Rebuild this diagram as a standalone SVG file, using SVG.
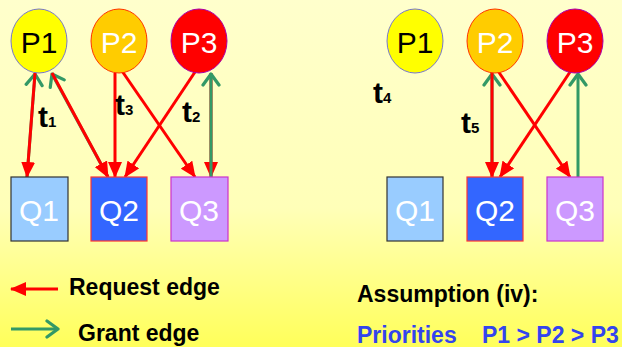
<svg xmlns="http://www.w3.org/2000/svg" width="622" height="347" viewBox="0 0 622 347">
<defs>
<linearGradient id="bg" x1="0" y1="0" x2="0" y2="1">
<stop offset="0" stop-color="#FFFFCC"/>
<stop offset="0.6" stop-color="#FFFFB8"/>
<stop offset="1" stop-color="#FFFF5A"/>
</linearGradient>
<marker id="rh" markerUnits="userSpaceOnUse" viewBox="0 0 16 14" refX="15" refY="7" markerWidth="16" markerHeight="14" orient="auto">
<path d="M0,0 L16,7 L0,14 z" fill="#FF0000"/>
</marker>
<marker id="gh" markerUnits="userSpaceOnUse" viewBox="0 0 16 20" refX="13" refY="10" markerWidth="16" markerHeight="20" orient="auto">
<path d="M2,2 L13,10 L2,18" fill="none" stroke="#339966" stroke-width="3.2" stroke-linecap="round" stroke-linejoin="round"/>
</marker>
</defs>
<style>
.req{stroke:#FF0000;stroke-width:3;fill:none;marker-end:url(#rh)}
.gr{stroke:#339966;stroke-width:3;fill:none;marker-end:url(#gh)}
.pt{font-family:"Liberation Sans",Arial,sans-serif;font-size:30px;text-anchor:middle}
.qt{font-family:"Liberation Sans",Arial,sans-serif;font-size:30px;text-anchor:middle;fill:#FFFFFF}
.tl{font-family:"Liberation Sans",Arial,sans-serif;font-weight:bold;font-size:30px;fill:#000000}
.sub{font-size:15px}
.lg{font-family:"Liberation Sans",Arial,sans-serif;font-weight:bold;font-size:23px;fill:#000000}
</style>
<rect x="0" y="0" width="622" height="347" fill="url(#bg)"/>

<g id="connectors">
<line class="gr" x1="27" y1="177" x2="35" y2="74"/>
<line class="gr" x1="108" y1="177" x2="52" y2="74"/>
<line class="req" x1="35" y1="73" x2="27" y2="177"/>
<line class="req" x1="52" y1="73" x2="108" y2="177"/>
<line class="req" x1="115" y1="73" x2="115" y2="177"/>
<line class="req" x1="122" y1="71" x2="195" y2="177"/>
<line class="req" x1="195" y1="72" x2="125" y2="177"/>
<line class="req" x1="211" y1="73" x2="211" y2="177"/>
<line class="gr" x1="211" y1="177" x2="211" y2="74"/>
<line class="gr" x1="492" y1="177" x2="492" y2="74"/>
<line class="req" x1="492" y1="73" x2="492" y2="177"/>
<line class="req" x1="498" y1="71" x2="570" y2="177"/>
<line class="req" x1="570" y1="72" x2="500" y2="177"/>
<line class="gr" x1="578" y1="177" x2="578" y2="74"/>
<line class="req" x1="58" y1="289" x2="11" y2="289"/>
<line class="gr" x1="11" y1="329" x2="58" y2="329"/>
</g>

<g id="L-P1"><ellipse cx="39" cy="41" rx="28" ry="32" fill="#FFFF00" stroke="#7777CC" stroke-width="1"/><text class="pt" x="39" y="53" fill="#000000">P1</text></g>
<g id="L-P2"><ellipse cx="119" cy="41" rx="28" ry="32" fill="#FFCC00" stroke="#FF3300" stroke-width="1"/><text class="pt" x="119" y="53" fill="#FFFFFF">P2</text></g>
<g id="L-P3"><ellipse cx="199" cy="41" rx="28" ry="32" fill="#FF0000" stroke="#AA00AA" stroke-width="1"/><text class="pt" x="199" y="53" fill="#FFFFFF">P3</text></g>
<g id="L-Q1"><rect x="11" y="177" width="57" height="64" fill="#99CCFF" stroke="#333333" stroke-width="1.2"/><text class="qt" x="39" y="221">Q1</text></g>
<g id="L-Q2"><rect x="91" y="177" width="56" height="64" fill="#3366FF" stroke="#FF3333" stroke-width="1.2"/><text class="qt" x="119" y="221">Q2</text></g>
<g id="L-Q3"><rect x="171" y="177" width="57" height="64" fill="#CC99FF" stroke="#CC33CC" stroke-width="1.2"/><text class="qt" x="199" y="221">Q3</text></g>

<g id="R-P1"><ellipse cx="415" cy="41" rx="28" ry="32" fill="#FFFF00" stroke="#7777CC" stroke-width="1"/><text class="pt" x="415" y="53" fill="#000000">P1</text></g>
<g id="R-P2"><ellipse cx="495" cy="41" rx="28" ry="32" fill="#FFCC00" stroke="#FF3300" stroke-width="1"/><text class="pt" x="495" y="53" fill="#FFFFFF">P2</text></g>
<g id="R-P3"><ellipse cx="575" cy="41" rx="28" ry="32" fill="#FF0000" stroke="#AA00AA" stroke-width="1"/><text class="pt" x="575" y="53" fill="#FFFFFF">P3</text></g>
<g id="R-Q1"><rect x="387" y="177" width="56" height="64" fill="#99CCFF" stroke="#333333" stroke-width="1.2"/><text class="qt" x="415" y="221">Q1</text></g>
<g id="R-Q2"><rect x="467" y="177" width="56" height="64" fill="#3366FF" stroke="#FF3333" stroke-width="1.2"/><text class="qt" x="495" y="221">Q2</text></g>
<g id="R-Q3"><rect x="547" y="177" width="56" height="64" fill="#CC99FF" stroke="#CC33CC" stroke-width="1.2"/><text class="qt" x="575" y="221">Q3</text></g>

<g id="time-labels">
<text class="tl" x="38" y="127">t<tspan class="sub">1</tspan></text>
<text class="tl" x="115" y="115">t<tspan class="sub">3</tspan></text>
<text class="tl" x="182" y="122">t<tspan class="sub">2</tspan></text>
<text class="tl" x="373" y="103">t<tspan class="sub">4</tspan></text>
<text class="tl" x="461" y="133">t<tspan class="sub">5</tspan></text>
</g>

<g id="legend">
<text class="lg" x="69" y="295">Request edge</text>
<text class="lg" x="78" y="341">Grant edge</text>
<text class="lg" x="357" y="302">Assumption (iv):</text>
<text class="lg" x="357" y="343" style="fill:#3344EE">Priorities<tspan x="482">P1 &gt; P2 &gt; P3</tspan></text>
</g>
</svg>
